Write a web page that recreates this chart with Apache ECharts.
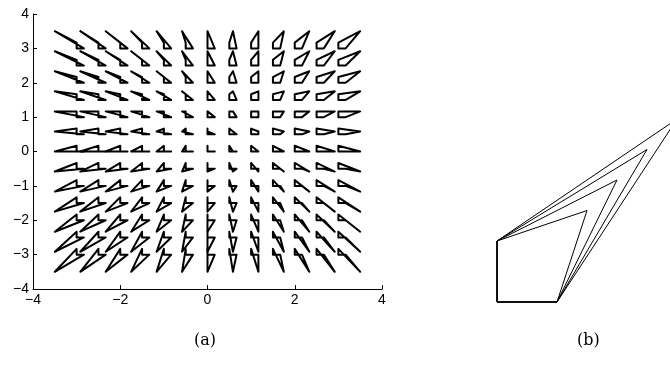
<!DOCTYPE html>
<html>
<head>
<meta charset="utf-8">
<script src="https://cdn.jsdelivr.net/npm/echarts@6/dist/echarts.min.js"></script>
<style>
  html, body { margin: 0; padding: 0; background: #fff; }
  #chart { width: 670px; height: 366px; }
</style>
</head>
<body>
<div id="chart"></div>
<script>
// Sample grid of the deformation field (panel a)
const gridX = [-3, -2.5, -2, -1.5, -1, -0.5, 0, 0.5, 1, 1.5, 2, 2.5, 3];
const gridY = [-3, -2.5, -2, -1.5, -1, -0.5, 0, 0.5, 1, 1.5, 2, 2.5, 3];
// Field components: u for each column, v for each row
const fieldU = [-3, -2.5, -2, -1.5, -1, -0.5, 0, 0.5, 1, 1.5, 2, 2.5, 3];
const fieldV = [-3, -2.5, -2, -1.5, -1, -0.5, 0, 0.5, 1, 1.5, 2, 2.5, 3];
// Axis ticks of panel a
const xTicks = [-4, -2, 0, 2, 4];
const yTicks = [-4, -3, -2, -1, 0, 1, 2, 3, 4];
// Panel b: displacement of the free corner of the unit square, one quad per step
const cornerShift = [0.5, 1.0, 1.5, 2.0];

const GLYPH_BASE = 1 / 6;   // side of the glyph's base square (data units)
const GLYPH_GAIN = 1 / 6;   // field-to-displacement gain

const fieldData = [];
gridY.forEach((y, j) => {
  gridX.forEach((x, i) => {
    fieldData.push([x, y, fieldU[i], fieldV[j]]);
  });
});

const minusFmt = v => String(v).replace('-', '\u2212');

const axisCommon = {
  type: 'value',
  axisLine: { show: true, onZero: false, lineStyle: { color: '#000', width: 1 } },
  axisTick: { show: true, inside: true, length: 4, lineStyle: { color: '#000' } },
  splitLine: { show: false },
  axisLabel: { color: '#000', fontSize: 14, margin: 4, formatter: minusFmt }
};

const chart = echarts.init(document.getElementById('chart'), null, { renderer: 'canvas' });
chart.setOption({
  animation: false,
  backgroundColor: '#ffffff',
  textStyle: { fontFamily: 'Liberation Sans' },
  grid: [
    { left: 33, top: 14, width: 349, height: 275 },
    { left: 497, width: 60, bottom: 64, height: 61 }
  ],
  xAxis: [
    Object.assign({}, axisCommon, {
      gridIndex: 0,
      min: xTicks[0], max: xTicks[xTicks.length - 1], interval: xTicks[1] - xTicks[0]
    }),
    { gridIndex: 1, type: 'value', min: 0, max: 1, show: false }
  ],
  yAxis: [
    Object.assign({}, axisCommon, {
      gridIndex: 0,
      min: yTicks[0], max: yTicks[yTicks.length - 1], interval: yTicks[1] - yTicks[0]
    }),
    { gridIndex: 1, type: 'value', min: 0, max: 1, show: false }
  ],
  graphic: [
    { type: 'text', left: 194, top: 333, style: { text: '(a)', font: '16px "DejaVu Serif"', fill: '#000' } },
    { type: 'text', left: 577, top: 333, style: { text: '(b)', font: '16px "DejaVu Serif"', fill: '#000' } }
  ],
  series: [
    {
      type: 'custom',
      xAxisIndex: 0, yAxisIndex: 0,
      clip: false,
      data: fieldData,
      renderItem: function (params, api) {
        const x = api.value(0), y = api.value(1);
        const u = api.value(2), v = api.value(3);
        const s = GLYPH_BASE, g = GLYPH_GAIN;
        const pts = [
          [x, y], [x + s, y], [x + u * g, y + v * g], [x, y + s]
        ].map(p => api.coord(p));
        return {
          type: 'polygon',
          shape: { points: pts },
          style: { fill: 'transparent', stroke: '#000', lineWidth: 2, lineJoin: 'round' }
        };
      }
    },
    {
      type: 'custom',
      xAxisIndex: 1, yAxisIndex: 1,
      clip: false,
      data: cornerShift.map(t => [t]),
      renderItem: function (params, api) {
        const t = api.value(0);
        const pts = [[0, 0], [1, 0], [1 + t, 1 + t], [0, 1]].map(p => api.coord(p));
        return {
          type: 'polygon',
          shape: { points: pts },
          style: { fill: 'transparent', stroke: '#000', lineWidth: 1, lineJoin: 'miter' }
        };
      }
    }
  ]
});
</script>
</body>
</html>
